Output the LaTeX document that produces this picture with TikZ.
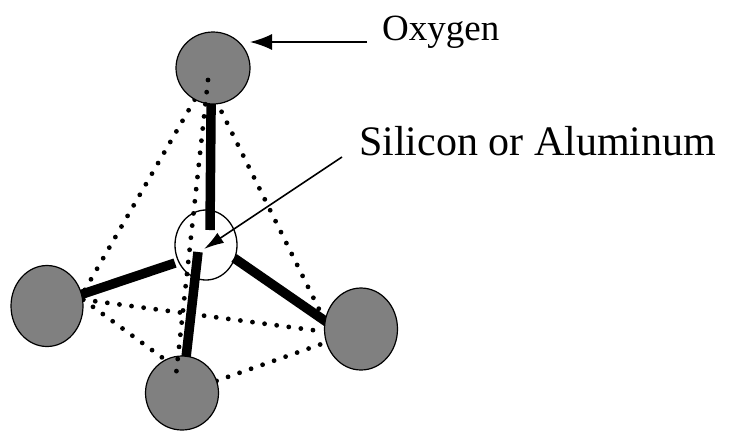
\documentclass[tikz,border=0pt]{standalone}
\usepackage{fontspec}
\setmainfont{Liberation Serif}
\usetikzlibrary{shapes.geometric,arrows.meta,backgrounds}

\begin{document}
\begin{tikzpicture}[x=1pt,y=-1pt,
  oxy/.style={ellipse,draw=black,line width=1.2pt,fill=gray,inner sep=0pt},
  bond/.style={line width=9.5pt,shorten >=-5pt},
  hidden/.style={line width=4.8pt,line cap=round,dash pattern=on 0pt off 12.2pt},
  pointer/.style={line width=1.6pt}]
\useasboundingbox (0,0) rectangle (730,432);
% Oxygen atoms at the corners of the tetrahedron
\foreach \n/\x/\y/\w/\h in {otop/213/68/74/72,oleft/47/306/72/81,obot/182/393/73/74,oright/361/329/73/82}
  \node[oxy,minimum width=\w pt,minimum height=\h pt] (\n) at (\x,\y) {};
% central atom
\node[ellipse,draw=black,line width=1.3pt,inner sep=0pt,minimum width=62pt,minimum height=70pt] (si) at (206,245) {};
% bond ends inside the central atom
\coordinate (bt) at (210,230);
\coordinate (bl) at (175,263);
\coordinate (br) at (234,258);
\coordinate (bb) at (198,252);
% back edge, drawn over the atoms
\coordinate (vt) at (208,80);
\coordinate (vb) at (176,375);
\begin{pgfonlayer}{background}
  % tetrahedron edges
  \draw[hidden] (otop.center) -- (oleft.18);
  \draw[hidden] ([xshift=-13pt]otop.center) -- (oright.167);
  \draw[hidden] (oleft.10) -- (oright.-176);
  \draw[hidden] (oleft.10) -- (obot.117);
  \draw[hidden] (obot.center) -- (oright.-159);
  % Si--O bonds
  \draw[bond] (bt) -- (otop.-93);
  \draw[bond] (bl) -- (oleft.center);
  \draw[bond] (br) -- (oright.167);
  \draw[bond] (bb) -- (obot.center);
\end{pgfonlayer}
\draw[hidden] (vt) -- (vb);
% labels
\node[anchor=base west,inner sep=0pt,font=\fontsize{37}{40}\selectfont] (oxlbl) at (382,40) {Oxygen};
\node[anchor=base west,inner sep=0pt,font=\fontsize{42}{46}\selectfont] (silbl) at (359,155) {Silicon or Aluminum};
\coordinate (oxtip) at (250,42);
\coordinate (sitip) at (204,249);
\draw[pointer,-{Latex[length=22pt,width=16pt]}] ([xshift=-15pt,yshift=-2pt]oxlbl.base west) -- (oxtip);
\draw[pointer,-{Latex[length=20pt,width=12pt]}] ([xshift=-17pt,yshift=-2pt]silbl.base west) -- (sitip);
\end{tikzpicture}
\end{document}
